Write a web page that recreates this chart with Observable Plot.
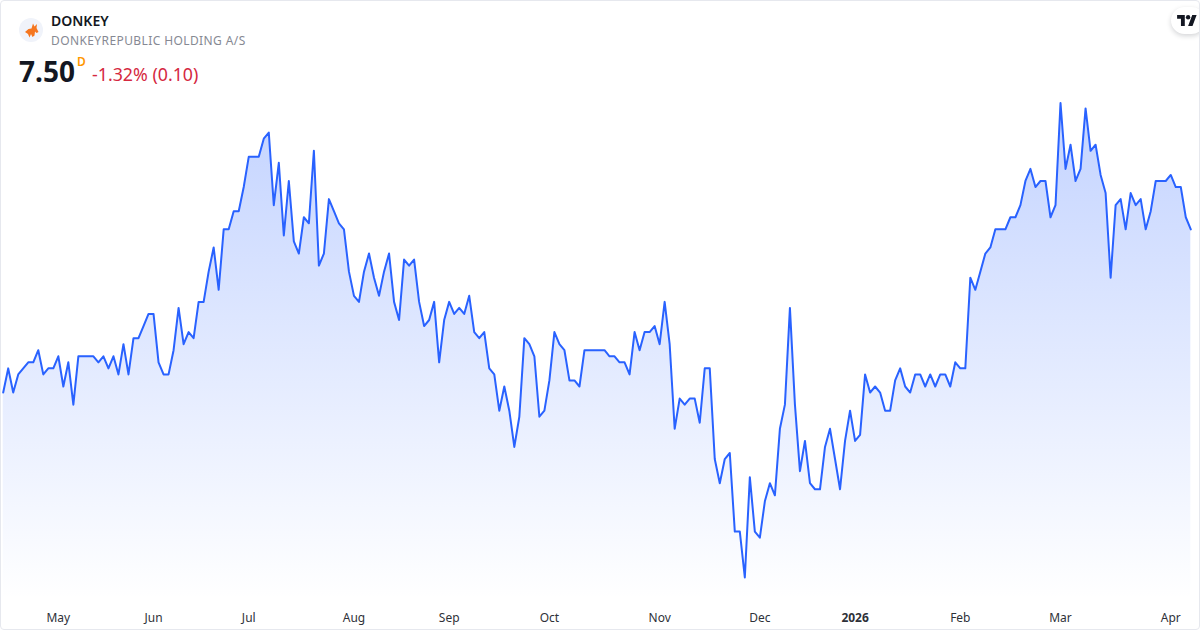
<!DOCTYPE html>
<html>
<head>
<meta charset="utf-8">
<script src="https://cdn.jsdelivr.net/npm/d3@7"></script>
<script src="https://cdn.jsdelivr.net/npm/@observablehq/plot@0.6"></script>
<style>
html,body{margin:0;padding:0;background:#fff;width:1200px;height:630px;overflow:hidden}
#card{position:relative;width:1200px;height:630px;box-sizing:border-box;border:1px solid #e6e8ee;border-radius:4px;overflow:hidden;font-family:"Noto Sans","Open Sans",sans-serif}
#chart{position:absolute;left:-1px;top:-1px}
#chart svg{display:block}
.abs{position:absolute;white-space:nowrap;line-height:1}
#sym{left:50px;top:13px;font-size:14px;font-weight:600;color:#131722}
#name{left:50px;top:34px;font-size:12px;color:#868993;letter-spacing:.4px}
#price{left:18px;top:56px;font-size:28px;font-weight:700;color:#131722}
#flag{left:76px;top:55px;font-size:12px;font-weight:600;color:#ff9800}
#chg{left:91px;top:65px;font-size:17.8px;color:#d5293f}
#logo{left:18px;top:17px}
#tv{right:-6px;top:6px;width:34px;height:27px;background:#fff;border-radius:14px;box-shadow:0 2px 5px rgba(19,23,34,.18)}
</style>
</head>
<body>
<div id="card">
  <div id="chart"></div>
  <svg id="logo" class="abs" width="24" height="24" viewBox="0 0 24 24">
    <circle cx="12" cy="12" r="12" fill="#f0f3fa"/>
    <path d="M6 14L9.5 11L12.5 10.5L14 5.5L15.5 8.5L18 6L17.5 10L19.5 14L17.5 15L16 13.5L15.5 17.5L13.5 19L12 16L10.5 19.5L9 16Z" fill="#f5761f"/>
  </svg>
  <div id="sym" class="abs">DONKEY</div>
  <div id="name" class="abs">DONKEYREPUBLIC HOLDING A/S</div>
  <div id="price" class="abs">7.50</div>
  <div id="flag" class="abs">D</div>
  <div id="chg" class="abs">-1.32% (0.10)</div>
  <div id="tv" class="abs">
    <svg style="position:absolute;left:6px;top:8px" width="20" height="11" viewBox="0 0 36 20">
      <path d="M14 20H7V7H0V0h14zM28 20h-8L27.5 0h8z" fill="#131722"/><circle cx="20" cy="4" r="4" fill="#131722"/>
    </svg>
  </div>
</div>
<script>
const prices = [
6.15,6.35,6.15,6.30,6.35,6.40,6.40,6.50,6.30,6.35,6.35,6.45,6.20,6.40,6.05,6.45,6.45,6.45,6.45,6.40,
6.45,6.35,6.45,6.30,6.55,6.30,6.60,6.60,6.70,6.80,6.80,6.40,6.30,6.30,6.50,6.85,6.55,6.65,6.60,6.90,
6.90,7.15,7.35,7.00,7.50,7.50,7.65,7.65,7.85,8.10,8.10,8.10,8.25,8.30,7.70,8.05,7.45,7.90,7.40,7.30,
7.60,7.55,8.15,7.20,7.30,7.75,7.65,7.55,7.50,7.15,6.95,6.90,7.15,7.30,7.10,6.95,7.15,7.30,6.90,6.75,
7.25,7.20,7.25,6.90,6.70,6.75,6.90,6.40,6.75,6.90,6.80,6.85,6.80,6.95,6.65,6.60,6.65,6.35,6.30,6.00,
6.20,6.00,5.70,5.95,6.60,6.55,6.45,5.95,6.00,6.25,6.65,6.55,6.50,6.25,6.25,6.20,6.50,6.50,6.50,6.50,
6.50,6.45,6.45,6.40,6.40,6.30,6.65,6.50,6.65,6.65,6.70,6.55,6.90,6.55,5.85,6.10,6.05,6.10,6.10,5.90,
6.35,6.35,5.60,5.40,5.60,5.65,5.00,5.00,4.62,5.45,5.00,4.95,5.25,5.40,5.30,5.85,6.05,6.85,6.05,5.50,
5.75,5.40,5.35,5.35,5.70,5.85,5.60,5.35,5.75,6.00,5.75,5.80,6.30,6.15,6.20,6.15,6.00,6.00,6.25,6.35,
6.20,6.15,6.30,6.30,6.20,6.30,6.20,6.30,6.30,6.20,6.40,6.35,6.35,7.10,7.00,7.15,7.30,7.35,7.50,7.50,
7.50,7.60,7.60,7.70,7.90,8.00,7.85,7.90,7.90,7.60,7.70,8.545,8.00,8.20,7.90,8.00,8.50,8.15,8.20,7.95,
7.80,7.10,7.70,7.75,7.50,7.80,7.70,7.75,7.50,7.65,7.90,7.90,7.90,7.95,7.85,7.85,7.60,7.50];
const sessions = prices.map((_, i) => i);
const tickLabels = ["May","Jun","Jul","Aug","Sep","Oct","Nov","Dec","2026","Feb","Mar","Apr"];
const tickSessions = [11,30,49,70,89,109,131,151,170,191,211,233];
const rows = sessions.map(i => ({i, p: prices[i]}));
const ticks = tickLabels.map((label, k) => ({label, i: tickSessions[k]}));
const yBase = 4.434, yTop = 9.393;

const gradient = () => {
  const defs = d3.create("svg:defs");
  const g = defs.append("linearGradient").attr("id","areaFill").attr("x1",0).attr("y1",0).attr("x2",0).attr("y2",1);
  g.append("stop").attr("offset","0%").attr("stop-color","#2962ff").attr("stop-opacity",0.28);
  g.append("stop").attr("offset","100%").attr("stop-color","#2962ff").attr("stop-opacity",0);
  return defs.node();
};

const tickText = (data, fontWeight) => Plot.text(data, {x: "i", y: yBase, dy: 18, text: "label", fill: "#2e3138",
  fontSize: 12, fontFamily: '"Noto Sans","Open Sans",sans-serif', fontWeight});

const plot = Plot.plot({
  width: 1200, height: 630,
  marginTop: 0, marginBottom: 30, marginLeft: 2.7, marginRight: 8.7,
  style: {background: "transparent", overflow: "visible"},
  x: {domain: [0, prices.length - 1], axis: null},
  y: {domain: [yBase, yTop], axis: null},
  marks: [
    gradient,
    Plot.areaY(rows, {x: "i", y1: yBase, y2: "p", fill: "url(#areaFill)"}),
    Plot.lineY(rows, {x: "i", y: "p", stroke: "#2962ff", strokeWidth: 2, strokeLinejoin: "round"}),
    tickText(ticks.filter(d => d.label !== "2026"), 400),
    tickText(ticks.filter(d => d.label === "2026"), 700)
  ]
});
document.getElementById("chart").appendChild(plot);
</script>
</body>
</html>
